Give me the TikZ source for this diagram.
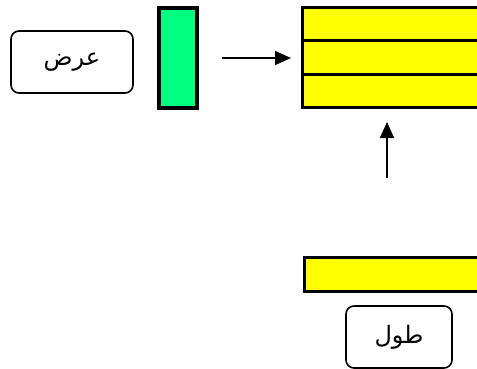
\documentclass[tikz,border=0pt]{standalone}
\usepackage{fontspec}
\newfontfamily\arabicfont[Script=Arabic]{DejaVu Sans}
\TeXXeTstate=1
\usetikzlibrary{arrows.meta}
\definecolor{grn}{HTML}{00FF80}
\definecolor{ylw}{HTML}{FFFF00}
\tikzset{
  lbl/.style={draw, rounded corners=8pt, line width=1.6pt, inner sep=0pt, outer sep=0pt, font=\arabicfont\fontsize{24}{27}\selectfont},
  bar/.style={draw, line width=3pt, inner sep=0pt, outer sep=0pt},
  arr/.style={line width=1.6pt, -{Triangle[length=16pt,width=14pt]}}
}
\begin{document}
\begin{tikzpicture}[x=1pt,y=-1pt]
\useasboundingbox (0,0) rectangle (477,369);
\clip (0,0) rectangle (477,369);
\node[lbl, minimum width=122pt, minimum height=62pt] (w) at (72,62) {\beginR عرض\endR};
\node[bar, fill=grn, line width=3.5pt, minimum width=38pt, minimum height=100pt] (g) at (178,58) {};
\node[bar, fill=ylw, minimum width=190pt, minimum height=100pt] (y) at (397,58) {};
\draw[line width=3pt] (y.west |- 0,41) -- (y.east |- 0,41);
\draw[line width=3pt] (y.west |- 0,75) -- (y.east |- 0,75);
\node[bar, fill=ylw, minimum width=186pt, minimum height=34pt] (b) at (397,274) {};
\node[lbl, minimum width=106pt, minimum height=62pt] (l) at (399,337) {\beginR طول\endR};
\draw[arr, shorten <=25pt, shorten >=11pt] (g.east) -- (y.west);
\draw[arr, shorten <=79pt, shorten >=14pt] ([xshift=-10pt]b.north) -- ([xshift=-10pt]y.south);
\end{tikzpicture}
\end{document}
